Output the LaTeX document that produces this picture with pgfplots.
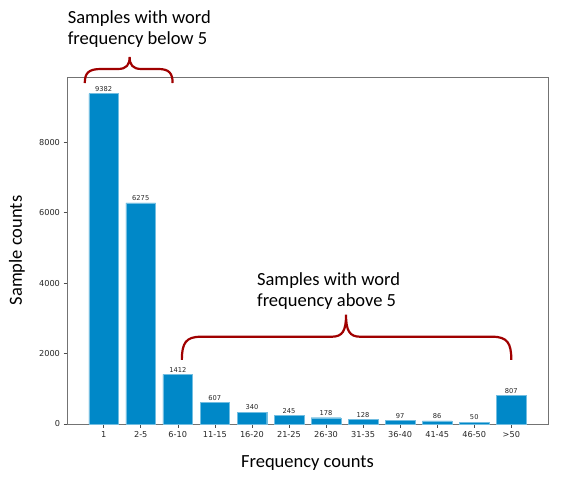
\documentclass[border=0pt]{standalone}
\usepackage{fontspec}
\setmainfont{Carlito}
\newfontfamily\dejavu{DejaVu Sans}
\usepackage{pgfplots}
\pgfplotsset{compat=1.18}
\definecolor{barblue}{HTML}{0088C8}
\definecolor{bracered}{HTML}{A00000}

\begin{document}
\begin{tikzpicture}[x=1pt,y=1pt]
\useasboundingbox (0,0) rectangle (579,488);
\begin{axis}[
  at={(67pt,64pt)}, anchor=south west,
  scale only axis, width=481pt, height=347pt,
  ybar, bar width=0.8,
  xmin=-0.99, xmax=11.99, ymin=0, ymax=9851,
  xtick=data,
  xticklabels={1,2-5,6-10,11-15,16-20,21-25,26-30,31-35,36-40,41-45,46-50,>50},
  ytick={0,2000,4000,6000,8000},
  scaled y ticks=false,
  /pgf/number format/1000 sep={},
  /pgf/number format/assume math mode=true,
  ticklabel style={font=\dejavu\fontsize{8.2}{9}\selectfont, text=black!85},
  tick align=outside, major tick length=3.5pt,
  tick style={black!70, line width=0.6pt},
  xtick pos=bottom, ytick pos=left,
  axis line style={black!55, line width=0.8pt},
  xlabel={Frequency counts}, ylabel={Sample counts},
  label style={font=\fontsize{18.5}{21}\selectfont},
  xlabel style={at={(axis description cs:0.5,-0.112)}, anchor=center},
  ylabel style={at={(axis description cs:-0.104,0.5)}, anchor=center},
  nodes near coords,
  nodes near coords style={font=\dejavu\fontsize{6.7}{8}\selectfont, text=black!85, inner sep=1pt, anchor=south, yshift=1pt},
  clip=false,
]
\addplot[fill=barblue, draw=barblue!55!white, line width=0.4pt] coordinates {
  (0,9382) (1,6275) (2,1412) (3,607) (4,340) (5,245)
  (6,178) (7,128) (8,97) (9,86) (10,50) (11,807)};

% braces
\draw[bracered, line width=2.2pt]
  (axis cs:-0.51,9680) .. controls (axis cs:-0.51,9950) and (axis cs:-0.42,10078) .. (axis cs:-0.08,10078)
  -- (axis cs:0.38,10078) .. controls (axis cs:0.62,10078) and (axis cs:0.70,10200) .. (axis cs:0.70,10420)
  .. controls (axis cs:0.70,10200) and (axis cs:0.78,10078) .. (axis cs:1.02,10078)
  -- (axis cs:1.48,10078) .. controls (axis cs:1.77,10078) and (axis cs:1.86,9950) .. (axis cs:1.86,9680);
\draw[bracered, line width=2.2pt]
  (axis cs:2.11,1822) .. controls (axis cs:2.11,2300) and (axis cs:2.22,2477) .. (axis cs:2.62,2477)
  -- (axis cs:6.15,2477) .. controls (axis cs:6.45,2477) and (axis cs:6.54,2650) .. (axis cs:6.54,3103)
  .. controls (axis cs:6.54,2650) and (axis cs:6.63,2477) .. (axis cs:6.93,2477)
  -- (axis cs:10.49,2477) .. controls (axis cs:10.89,2477) and (axis cs:11.0,2300) .. (axis cs:11.0,1822);

\node[anchor=north west, inner sep=0pt, align=left, font=\fontsize{18.5}{21}\selectfont]
  at (axis cs:-0.973,11730) {Samples with word\\frequency below 5};
\node[anchor=north west, inner sep=0pt, align=left, font=\fontsize{18.5}{21}\selectfont]
  at (axis cs:4.135,4299) {Samples with word\\frequency above 5};
\end{axis}
\end{tikzpicture}
\end{document}
